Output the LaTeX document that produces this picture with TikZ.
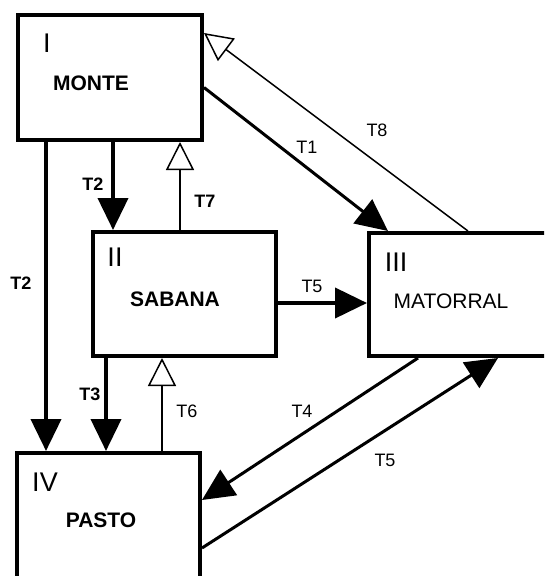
\documentclass[tikz,border=0pt]{standalone}
\usepackage{fontspec}
\setmainfont{Liberation Sans}
\usetikzlibrary{arrows.meta,positioning}

\tikzset{
  zone/.style={draw, line width=4pt, inner sep=0pt},
  roman/.style={inner sep=0pt, font=\fontsize{27}{27}\selectfont},
  zonename/.style={inner sep=0pt, font=\fontsize{21}{21}\selectfont},
  tlabel/.style={inner sep=0pt, font=\fontsize{18}{18}\selectfont},
  solidflow/.style={line width=4pt, -{Triangle[length=32pt,width=30pt]}},
  openflow/.style={line width=1.5pt, -{Triangle[open,length=28pt,width=28pt,fill=white]}},
}

\begin{document}
\begin{tikzpicture}[x=1pt, y=-1pt]
  \useasboundingbox (0,0) rectangle (544,576);
  \clip (0,0) rectangle (544,576);

  % the four zones
  \node[zone, minimum width=184pt, minimum height=125pt] (monte) at (110,77.5) {};
  \node[zone, minimum width=183pt, minimum height=124pt] (sabana) at (184.5,294) {};
  \node[zone, minimum width=190pt, minimum height=123pt] (matorral) at (464,294.5) {};
  \node[zone, minimum width=183pt, minimum height=137pt] (pasto) at (108.5,521.5) {};

  \node[roman] (rI) at (47,43) {I};
  \node[zonename, font=\fontsize{21}{21}\selectfont\bfseries] (nmonte) at (91,83) {MONTE};
  \node[roman] (rII) at (115,257) {II};
  \node[zonename, font=\fontsize{21}{21}\selectfont\bfseries] (nsabana) at (175,299) {SABANA};
  \node[roman] (rIII) at (396,262) {III};
  \node[zonename] (nmatorral) at (451,301) {MATORRAL};
  \node[roman] (rIV) at (45,482) {IV};
  \node[zonename, font=\fontsize{21}{21}\selectfont\bfseries] (npasto) at (101,520) {PASTO};

  % transitions
  \coordinate (t2a) at ([xshift=30pt]monte.south west);
  \coordinate (t2b) at ([xshift=97pt]monte.south west);
  \coordinate (t7) at ([xshift=89pt]sabana.north west);
  \coordinate (t3) at ([xshift=15pt]sabana.south west);
  \coordinate (t6) at ([xshift=147pt]pasto.north west);
  \coordinate (t5a) at ([yshift=-9pt]sabana.east);

  \draw[solidflow] (t2a) -- (t2a |- pasto.north);
  \draw[solidflow] (t2b) -- (t2b |- sabana.north);
  \draw[openflow] (t7) -- (t7 |- monte.south);
  \draw[solidflow] (t3) -- (t3 |- pasto.north);
  \draw[openflow] (t6) -- (t6 |- sabana.south);
  \draw[solidflow] (t5a) -- (t5a -| matorral.west);
  \draw[solidflow, line width=3pt] ([yshift=-10pt]monte.east) -- ([xshift=21pt]matorral.north west);
  \draw[openflow] ([xshift=101pt]matorral.north west) -- ([yshift=-20pt]monte.north east);
  \draw[solidflow, line width=3pt] ([xshift=51pt]matorral.south west) -- ([yshift=-49pt]pasto.north east);
  \draw[solidflow, line width=3pt] ([yshift=-97pt]pasto.north east) -- ([xshift=131pt]matorral.south west);

  \node[tlabel, font=\fontsize{18}{18}\selectfont\bfseries] (lt2a) at (21,283) {T2};
  \node[tlabel, font=\fontsize{18}{18}\selectfont\bfseries] (lt2b) at (93,184) {T2};
  \node[tlabel, font=\fontsize{18}{18}\selectfont\bfseries] (lt7) at (205,201) {T7};
  \node[tlabel, font=\fontsize{18}{18}\selectfont\bfseries] (lt3) at (90,394) {T3};
  \node[tlabel] (lt6) at (187,411) {T6};
  \node[tlabel] (lt5a) at (312,286) {T5};
  \node[tlabel] (lt1) at (307,147) {T1};
  \node[tlabel] (lt8) at (377,130) {T8};
  \node[tlabel] (lt4) at (302,411) {T4};
  \node[tlabel] (lt5b) at (385,460) {T5};
\end{tikzpicture}
\end{document}
